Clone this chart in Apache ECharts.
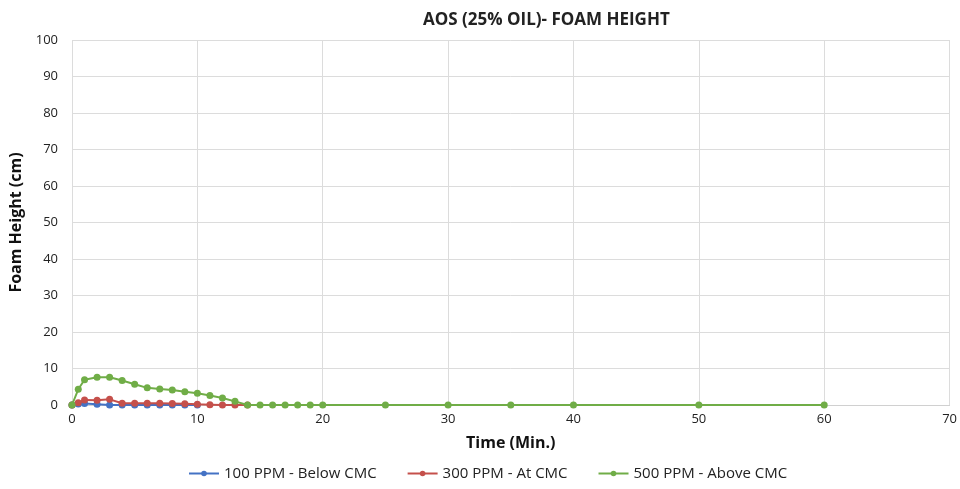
<!DOCTYPE html>
<html><head><meta charset="utf-8">
<script src="https://cdn.jsdelivr.net/npm/echarts@6/dist/echarts.min.js"></script>
<style>html,body{margin:0;padding:0;background:#fff}#c{width:960px;height:489px}</style>
</head><body><div id="c"></div>
<script>
const xBlue = [0, 0.5, 1, 2, 3, 4, 5, 6, 7, 8, 9, 10];
const yBlue = [0, 0.3, 0.4, 0.2, 0, 0, 0, 0, 0, 0, 0, 0];
const xRed = [0, 0.5, 1, 2, 3, 4, 5, 6, 7, 8, 9, 10, 11, 12, 13, 14];
const yRed = [0, 0.6, 1.4, 1.3, 1.55, 0.5, 0.45, 0.45, 0.45, 0.4, 0.35, 0.2, 0.1, 0, 0, 0];
const xGreen = [0, 0.5, 1, 2, 3, 4, 5, 6, 7, 8, 9, 10, 11, 12, 13, 14, 15, 16, 17, 18, 19, 20, 25, 30, 35, 40, 50, 60];
const yGreen = [0, 4.3, 6.9, 7.6, 7.6, 6.7, 5.7, 4.7, 4.4, 4.1, 3.6, 3.2, 2.6, 1.9, 1.0, 0, 0, 0, 0, 0, 0, 0, 0, 0, 0, 0, 0, 0];
const names = ['100 PPM - Below CMC', '300 PPM - At CMC', '500 PPM - Above CMC'];
const colors = ['#4472C4', '#C5504B', '#70AD47'];
const pair = (xs, ys) => xs.map((x, i) => [x, ys[i]]);
const font = 'Open Sans, Liberation Sans, sans-serif';
const chart = echarts.init(document.getElementById('c'));
const mk = (i, data) => ({
  name: names[i], type: 'line', data, color: colors[i],
  symbol: 'circle', symbolSize: 7, lineStyle: {width: 2}, z: i + 2
});
chart.setOption({
  animation: false,
  title: {text: 'AOS (25% OIL)- FOAM HEIGHT', left: 418, top: 7,
    textStyle: {fontFamily: font, fontSize: 17, fontWeight: 'bold', color: '#222'}},
  grid: {left: 72, right: 10, top: 40, bottom: 84},
  legend: {bottom: 3, left: 183, itemGap: 30, itemWidth: 30, itemHeight: 7,
    data: names,
    textStyle: {fontFamily: font, fontSize: 15, color: '#222'}},
  xAxis: {type: 'value', min: 0, max: 70, interval: 10,
    name: 'Time (Min.)', nameLocation: 'middle', nameGap: 30,
    nameTextStyle: {fontFamily: font, fontSize: 16, fontWeight: 'bold', color: '#111'},
    axisLine: {lineStyle: {color: '#d0d0d0'}}, axisTick: {show: false},
    axisLabel: {fontFamily: font, fontSize: 13, color: '#222'},
    splitLine: {lineStyle: {color: '#dcdcdc'}}},
  yAxis: {type: 'value', min: 0, max: 100, interval: 10,
    name: 'Foam Height (cm)', nameLocation: 'middle', nameGap: 42,
    nameTextStyle: {fontFamily: font, fontSize: 16, fontWeight: 'bold', color: '#111'},
    axisLine: {show: false}, axisTick: {show: false},
    axisLabel: {fontFamily: font, fontSize: 13, color: '#222', margin: 14},
    splitLine: {lineStyle: {color: '#dcdcdc'}}},
  series: [mk(0, pair(xBlue, yBlue)), mk(1, pair(xRed, yRed)), mk(2, pair(xGreen, yGreen))]
});
</script></body></html>
